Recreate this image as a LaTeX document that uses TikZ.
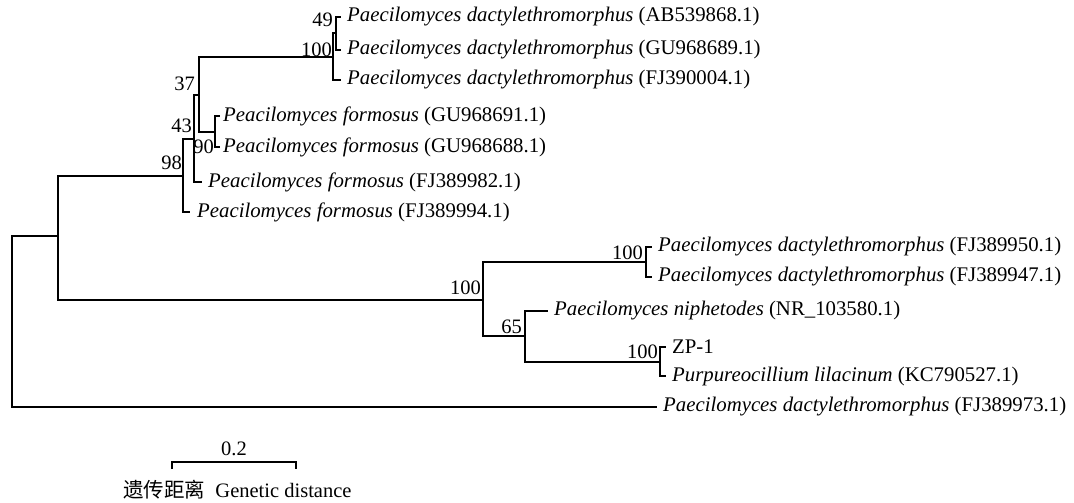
\documentclass[tikz,border=0pt]{standalone}
\usepackage{fontspec}
\setmainfont{Liberation Serif}
\newfontfamily\cjk{Noto Sans CJK SC}
\begin{document}
\begin{tikzpicture}[x=1pt,y=-1pt,
  br/.style={line width=2pt},
  tip/.style={anchor=west,inner sep=0pt,font=\fontsize{20.8}{21}\selectfont},
  bs/.style={anchor=east,inner sep=0pt,font=\fontsize{20.5}{21}\selectfont}]
\useasboundingbox (0,0) rectangle (1074,503);
% internal nodes
\coordinate (R) at (12,322);
\coordinate (N1) at (58,236);
\coordinate (N2) at (183,175.5);
\coordinate (N3) at (483,299.5);
\coordinate (N4) at (194,139);
\coordinate (N5) at (199,95);
\coordinate (N6) at (333,57);
\coordinate (N7) at (336,33.5);
\coordinate (N8) at (215,131.5);
\coordinate (N9) at (646,262);
\coordinate (N10) at (525,336);
\coordinate (N11) at (660,361.5);
% tips
\coordinate (t1) at (341,17);
\coordinate (t2) at (341,50);
\coordinate (t3) at (341,80);
\coordinate (t4) at (220,116);
\coordinate (t5) at (220,147);
\coordinate (t6) at (202,182);
\coordinate (t7) at (190,212);
\coordinate (t8) at (652,247);
\coordinate (t9) at (652,277);
\coordinate (t10) at (548,311);
\coordinate (t11) at (666,347);
\coordinate (t12) at (666,376);
\coordinate (t13) at (657,407);
% branches
\draw[br] (R) |- (N1); \draw[br] (R) |- (t13);
\draw[br] (N1) |- (N2); \draw[br] (N1) |- (N3);
\draw[br] (N2) |- (N4); \draw[br] (N2) |- (t7);
\draw[br] (N4) |- (N5); \draw[br] (N4) |- (t6);
\draw[br] (N5) |- (N6); \draw[br] (N5) |- (N8);
\draw[br] (N6) |- (N7); \draw[br] (N6) |- (t3);
\draw[br] (N7) |- (t1); \draw[br] (N7) |- (t2);
\draw[br] (N8) |- (t4); \draw[br] (N8) |- (t5);
\draw[br] (N3) |- (N9); \draw[br] (N3) |- (N10);
\draw[br] (N9) |- (t8); \draw[br] (N9) |- (t9);
\draw[br] (N10) |- (t10); \draw[br] (N10) |- (N11);
\draw[br] (N11) |- (t11); \draw[br] (N11) |- (t12);
% tip labels
\node[tip] (l1) at ([xshift=6pt]t1) {\textit{Paecilomyces dactylethromorphus} (AB539868.1)};
\node[tip] (l2) at ([xshift=6pt]t2) {\textit{Paecilomyces dactylethromorphus} (GU968689.1)};
\node[tip] (l3) at ([xshift=6pt]t3) {\textit{Paecilomyces dactylethromorphus} (FJ390004.1)};
\node[tip] (l4) at ([xshift=3pt]t4) {\textit{Peacilomyces formosus} (GU968691.1)};
\node[tip] (l5) at ([xshift=3pt]t5) {\textit{Peacilomyces formosus} (GU968688.1)};
\node[tip] (l6) at ([xshift=6pt]t6) {\textit{Peacilomyces formosus} (FJ389982.1)};
\node[tip] (l7) at ([xshift=7pt]t7) {\textit{Peacilomyces formosus} (FJ389994.1)};
\node[tip] (l8) at ([xshift=6pt]t8) {\textit{Paecilomyces dactylethromorphus} (FJ389950.1)};
\node[tip] (l9) at ([xshift=6pt]t9) {\textit{Paecilomyces dactylethromorphus} (FJ389947.1)};
\node[tip] (l10) at ([xshift=6pt]t10) {\textit{Paecilomyces niphetodes} (NR\_103580.1)};
\node[tip] (l11) at ([xshift=6pt]t11) {ZP-1};
\node[tip] (l12) at ([xshift=6pt]t12) {\textit{Purpureocillium lilacinum} (KC790527.1)};
\node[tip] (l13) at ([xshift=6pt]t13) {\textit{Paecilomyces dactylethromorphus} (FJ389973.1)};
% bootstrap values
\node[bs] (b49) at (333,20) {49};
\node[bs] (b100a) at (332,50) {100};
\node[bs] (b37) at (195,84) {37};
\node[bs] (b43) at (192,126) {43};
\node[bs] (b98) at (182,163) {98};
\node[bs] (b90) at (214,147) {90};
\node[bs] (b100b) at (481,288) {100};
\node[bs] (b65) at (522,327) {65};
\node[bs] (b100c) at (643,253) {100};
\node[bs] (b100d) at (658,352) {100};
% scale bar
\coordinate (s1) at (172,462);
\coordinate (s2) at (296,462);
\draw[line width=1.6pt] ([yshift=-7pt]s1) -- (s1) -- (s2) -- ([yshift=-7pt]s2);
\node[font=\fontsize{20.5}{21}\selectfont,inner sep=0pt] (sl) at (234,449) {0.2};
\node[anchor=west,inner sep=0pt,font=\fontsize{20.5}{21}\selectfont] (cap) at (123,490) {{\cjk 遗传距离}\ \ Genetic distance};
\end{tikzpicture}
\end{document}
